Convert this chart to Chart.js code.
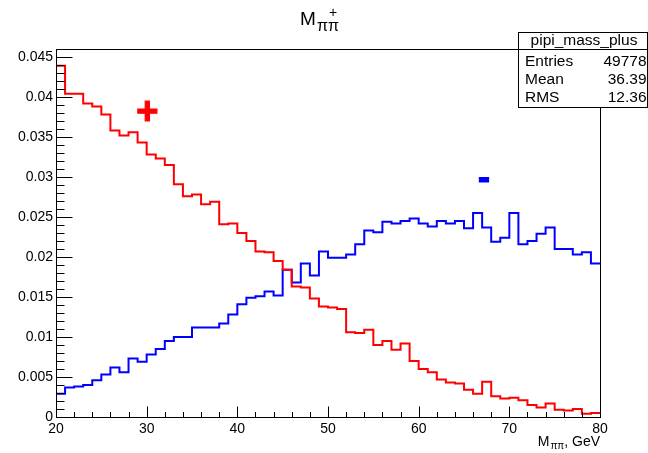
<!DOCTYPE html>
<html>
<head>
<meta charset="utf-8">
<script src="https://cdn.jsdelivr.net/npm/chart.js@4.4.1/dist/chart.umd.min.js"></script>
<style>
  html, body { margin: 0; padding: 0; background: #ffffff; }
  canvas { display: block; }
</style>
</head>
<body>
<canvas id="hist" width="648" height="453"></canvas>
<script>
// Bin edges of the M(pi pi) histogram, GeV
const binEdges = [20, 21, 22, 23, 24, 25, 26, 27, 28, 29,
                  30, 31, 32, 33, 34, 35, 36, 37, 38, 39,
                  40, 41, 42, 43, 44, 45, 46, 47, 48, 49,
                  50, 51, 52, 53, 54, 55, 56, 57, 58, 59,
                  60, 61, 62, 63, 64, 65, 66, 67, 68, 69,
                  70, 71, 72, 73, 74, 75, 76, 77, 78, 79, 80];

// Normalised bin contents, one per bin
const plusValues = [0.0439, 0.0404, 0.0404, 0.0392, 0.0388, 0.0378, 0.0358, 0.0352, 0.0356, 0.0343,
                    0.0328, 0.0323, 0.0315, 0.0291, 0.0276, 0.0278, 0.0266, 0.0269, 0.0241, 0.0242,
                    0.0230, 0.0220, 0.0207, 0.0206, 0.0195, 0.0184, 0.0163, 0.0162, 0.0148, 0.0138,
                    0.0137, 0.0135, 0.0106, 0.0105, 0.0109, 0.0090, 0.0095, 0.0084, 0.0092, 0.0070,
                    0.0060, 0.0056, 0.0047, 0.0043, 0.0042, 0.0034, 0.0029, 0.0044, 0.0026, 0.0023,
                    0.0024, 0.0021, 0.0015, 0.0012, 0.0017, 0.0009, 0.0008, 0.0010, 0.0004, 0.0005];

const minusValues = [0.0029, 0.0037, 0.0038, 0.0040, 0.0046, 0.0053, 0.0062, 0.0056, 0.0073, 0.0069,
                     0.0078, 0.0085, 0.0095, 0.0100, 0.0100, 0.0112, 0.0112, 0.0112, 0.0117, 0.0128,
                     0.0141, 0.0149, 0.0151, 0.0157, 0.0152, 0.0184, 0.0168, 0.0192, 0.0177, 0.0207,
                     0.0199, 0.0199, 0.0203, 0.0216, 0.0233, 0.0231, 0.0244, 0.0242, 0.0245, 0.0248,
                     0.0242, 0.0238, 0.0245, 0.0242, 0.0245, 0.0236, 0.0255, 0.0237, 0.0219, 0.0224,
                     0.0255, 0.0216, 0.0220, 0.0229, 0.0237, 0.0210, 0.0210, 0.0203, 0.0206, 0.0192];

// Axis ticks and labels
const xTickValues = [20, 30, 40, 50, 60, 70, 80];
const xTickLabels = ['20', '30', '40', '50', '60', '70', '80'];
const yTickValues = [0, 0.005, 0.01, 0.015, 0.02, 0.025, 0.03, 0.035, 0.04, 0.045];
const yTickLabels = ['0', '0.005', '0.01', '0.015', '0.02', '0.025', '0.03', '0.035', '0.04', '0.045'];

// Statistics box
const statsTitle = 'pipi_mass_plus';
const statsNames = ['Entries', 'Mean', 'RMS'];
const statsValues = ['49778', '36.39', '12.36'];

// Charge annotations placed in data coordinates
const chargeText = ['+', '-'];
const chargeX = [30.18, 67.31];
const chargeY = [0.0383, 0.02965];
const chargeColor = ['#ff0000', '#0000ff'];

const FONT = "'Liberation Sans', Arial, Helvetica, sans-serif";

// step histogram points: bin i starts at edge i; the last edge repeats the last bin
function histPoints(values) {
  return binEdges.map((x, i) => ({ x: x, y: values[Math.min(i, values.length - 1)] }));
}

const rootStyle = {
  id: 'rootStyle',
  beforeDraw(chart) {
    const ctx = chart.ctx;
    ctx.save();
    ctx.fillStyle = '#ffffff';
    ctx.fillRect(0, 0, chart.width, chart.height);
    ctx.restore();
  },
  afterDatasetsDraw(chart) {
    const ctx = chart.ctx;
    const a = chart.chartArea;
    const xs = chart.scales.x;
    const ys = chart.scales.y;
    const L = Math.round(a.left) + 0.5, R = Math.round(a.right) + 0.5;
    const T = Math.round(a.top) + 0.5, B = Math.round(a.bottom) + 0.5;
    ctx.save();
    ctx.strokeStyle = '#000000';
    ctx.lineWidth = 1;
    ctx.strokeRect(L, T, R - L, B - T);

    // ticks drawn inside the frame
    ctx.beginPath();
    for (let k = 0; k <= 45; k++) {
      const py = Math.round(ys.getPixelForValue(k * 0.001)) + 0.5;
      const len = (k % 5 === 0) ? 16 : 8;
      ctx.moveTo(L, py); ctx.lineTo(L + len, py);
    }
    for (let k = 0; k <= 30; k++) {
      const px = Math.round(xs.getPixelForValue(20 + 2 * k)) + 0.5;
      const len = (k % 5 === 0) ? 11 : 5.5;
      ctx.moveTo(px, B); ctx.lineTo(px, B - len);
    }
    ctx.stroke();

    // charge annotations
    const chargeSize = [38, 36];
    for (let i = 0; i < chargeText.length; i++) {
      ctx.font = 'bold ' + chargeSize[i] + 'px ' + FONT;
      ctx.fillStyle = chargeColor[i];
      ctx.strokeStyle = chargeColor[i];
      ctx.lineWidth = 1.2;
      ctx.textAlign = 'left';
      ctx.textBaseline = 'alphabetic';
      const m = ctx.measureText(chargeText[i]);
      const cx = xs.getPixelForValue(chargeX[i]);
      const cy = ys.getPixelForValue(chargeY[i]);
      const dx = cx - (m.actualBoundingBoxRight - m.actualBoundingBoxLeft) / 2 + m.actualBoundingBoxLeft;
      const dy = cy + (m.actualBoundingBoxAscent - m.actualBoundingBoxDescent) / 2;
      ctx.fillText(chargeText[i], dx, dy);
      ctx.strokeText(chargeText[i], dx, dy);
    }

    // title  M^+_{pi pi}
    ctx.fillStyle = '#000000';
    ctx.textAlign = 'left';
    ctx.textBaseline = 'alphabetic';
    ctx.font = '19px ' + FONT;
    ctx.fillText('M', 300, 25);
    ctx.font = '14px ' + FONT;
    ctx.fillText('+', 329, 17);
    ctx.font = '16px ' + FONT;
    ctx.fillText('\u03c0\u03c0', 317, 31);

    // x axis title  M_{pi pi}, GeV
    ctx.font = '14px ' + FONT;
    ctx.textAlign = 'right';
    const tail = ', GeV';
    const tailW = ctx.measureText(tail).width;
    ctx.fillText(tail, 600, 446);
    ctx.font = '10px ' + FONT;
    const subW = ctx.measureText('\u03c0\u03c0').width;
    ctx.fillText('\u03c0\u03c0', 600 - tailW, 449);
    ctx.font = '14px ' + FONT;
    ctx.fillText('M', 600 - tailW - subW - 1, 446);

    // statistics box
    const bx = 518.5, by = 32.5, bw = 129, bh = 75;
    ctx.fillStyle = '#ffffff';
    ctx.fillRect(bx, by, bw, bh);
    ctx.strokeStyle = '#000000';
    ctx.lineWidth = 1;
    ctx.strokeRect(bx, by, bw, bh);
    ctx.beginPath();
    ctx.moveTo(bx, 49.5); ctx.lineTo(bx + bw, 49.5);
    ctx.stroke();
    ctx.fillStyle = '#000000';
    ctx.font = '15.5px ' + FONT;
    ctx.textAlign = 'center';
    ctx.fillText(statsTitle, bx + bw / 2 + 1, 45);
    const rowY = [66, 84, 101.5];
    for (let i = 0; i < statsNames.length; i++) {
      ctx.textAlign = 'left';
      ctx.fillText(statsNames[i], 525, rowY[i]);
      ctx.textAlign = 'right';
      ctx.fillText(statsValues[i], 646.5, rowY[i]);
    }
    ctx.restore();
  }
};

new Chart(document.getElementById('hist'), {
  type: 'line',
  data: {
    datasets: [
      {
        label: 'M+ (pi pi)',
        data: histPoints(plusValues),
        borderColor: '#ff0000',
        borderWidth: 2,
        stepped: 'before',
        pointRadius: 0,
        fill: false
      },
      {
        label: 'M- (pi pi)',
        data: histPoints(minusValues),
        borderColor: '#0000ff',
        borderWidth: 2,
        stepped: 'before',
        pointRadius: 0,
        fill: false
      }
    ]
  },
  options: {
    responsive: false,
    animation: false,
    devicePixelRatio: 1,
    layout: { padding: { top: 49, right: 48, left: 0, bottom: 0 } },
    plugins: {
      legend: { display: false },
      tooltip: { enabled: false },
      title: { display: false }
    },
    scales: {
      x: {
        type: 'linear',
        min: 20,
        max: 80,
        grid: { display: false, drawTicks: false },
        border: { display: false },
        afterFit(scale) { scale.height = 36; },
        afterBuildTicks(scale) { scale.ticks = xTickValues.map(v => ({ value: v })); },
        ticks: {
          autoSkip: false,
          maxRotation: 0,
          padding: 4,
          color: '#000000',
          font: { family: FONT, size: 14 },
          callback: (v, i) => xTickLabels[i]
        }
      },
      y: {
        type: 'linear',
        min: 0,
        max: 0.046,
        grid: { display: false, drawTicks: false },
        border: { display: false },
        afterFit(scale) { scale.width = 56; },
        afterBuildTicks(scale) { scale.ticks = yTickValues.map(v => ({ value: v })); },
        ticks: {
          autoSkip: false,
          padding: 3,
          color: '#000000',
          font: { family: FONT, size: 14 },
          callback: (v, i) => yTickLabels[i]
        }
      }
    }
  },
  plugins: [rootStyle]
});
</script>
</body>
</html>
